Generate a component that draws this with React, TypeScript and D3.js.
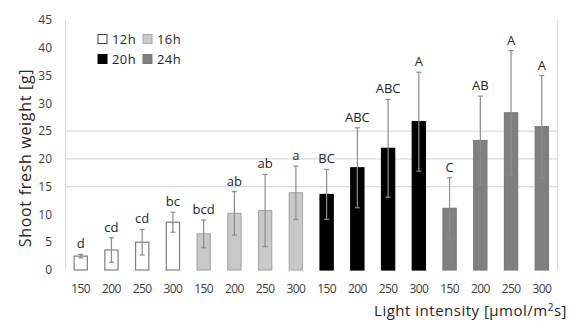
import { useEffect } from 'react';
import * as d3 from 'd3';

// photoperiod groups and light intensities
const groups = ['12h', '16h', '20h', '24h'];
const intensities = ['150', '200', '250', '300'];

// shoot fresh weight mean and error per group, in intensity order
const means12 = [2.5, 3.6, 5.0, 8.6];
const err12 = [0.3, 2.2, 2.3, 1.8];
const means16 = [6.5, 10.2, 10.7, 13.9];
const err16 = [2.5, 3.9, 6.5, 4.8];
const means20 = [13.6, 18.4, 21.9, 26.7];
const err20 = [4.5, 7.2, 8.8, 8.9];
const means24 = [11.1, 23.3, 28.3, 25.8];
const err24 = [5.5, 8.0, 11.2, 9.2];

const letters12 = ['d', 'cd', 'cd', 'bc'];
const letters16 = ['bcd', 'ab', 'ab', 'a'];
const letters20 = ['BC', 'ABC', 'ABC', 'A'];
const letters24 = ['C', 'AB', 'A', 'A'];

const yTicks = [0, 5, 10, 15, 20, 25, 30, 35, 40, 45];
const gridValues = [15, 20, 25];

const fills: Record<string, string> = { '12h': '#ffffff', '16h': '#c9c9c9', '20h': '#000000', '24h': '#808080' };
const strokes: Record<string, string> = { '12h': '#7f7f7f', '16h': '#a9a9a9', '20h': '#000000', '24h': '#7a7a7a' };

const W = 571;
const H = 322;
const font = '"Open Sans", "Noto Sans", sans-serif';

export default function App() {
  useEffect(() => {
    document.body.style.margin = '0';
  }, []);

  const allMeans = [means12, means16, means20, means24];
  const allErr = [err12, err16, err20, err24];
  const allLetters = [letters12, letters16, letters20, letters24];
  const rows = groups.flatMap((g, gi) =>
    intensities.map((it, ii) => ({
      key: g + '-' + it,
      group: g,
      label: it,
      v: allMeans[gi][ii],
      e: allErr[gi][ii],
      letter: allLetters[gi][ii],
    }))
  );

  const x = d3.scaleBand().domain(rows.map(r => r.key)).range([65.5, 557]).paddingInner(0.57).paddingOuter(0.28);
  const y = d3.scaleLinear().domain([0, 45]).range([270, 20]);
  const bw = x.bandwidth();

  return (
    <svg width={W} height={H} style={{ display: 'block', fontFamily: font }}>
      <rect width={W} height={H} fill="#fff" />
      {gridValues.map(g => (
        <line key={g} x1={65.5} x2={557} y1={y(g)} y2={y(g)} stroke="#dcdcdc" strokeWidth={1.2} />
      ))}
      <line x1={65.5} x2={65.5} y1={y(45)} y2={y(0)} stroke="#d9d9d9" strokeWidth={1.2} />
      <line x1={557.5} x2={557.5} y1={y(45)} y2={y(0)} stroke="#d9d9d9" strokeWidth={1.2} />
      {yTicks.map(t => (
        <text key={t} x={52} y={y(t)} dy="0.35em" textAnchor="end" fontSize={12} fill="#404040">
          {t}
        </text>
      ))}
      {rows.map(r => {
        const cx = (x(r.key) as number) + bw / 2;
        return (
          <g key={r.key}>
            <rect
              x={x(r.key)}
              y={y(r.v)}
              width={bw}
              height={y(0) - y(r.v)}
              fill={fills[r.group]}
              stroke={strokes[r.group]}
              strokeWidth={1.2}
            />
            <line x1={cx} x2={cx} y1={y(r.v + r.e)} y2={y(r.v - r.e)} stroke="#8c8c8c" strokeWidth={1.2} />
            <line x1={cx - 2.5} x2={cx + 2.5} y1={y(r.v + r.e)} y2={y(r.v + r.e)} stroke="#8c8c8c" strokeWidth={1.2} />
            <line x1={cx - 2.5} x2={cx + 2.5} y1={y(r.v - r.e)} y2={y(r.v - r.e)} stroke="#8c8c8c" strokeWidth={1.2} />
            <text x={cx} y={y(r.v + r.e) - 6} textAnchor="middle" fontSize={13} fill="#262626">
              {r.letter}
            </text>
            <text x={cx} y={289} dy="0.35em" textAnchor="middle" fontSize={12} letterSpacing={-0.6} fill="#404040">
              {r.label}
            </text>
          </g>
        );
      })}
      {groups.map((g, i) => {
        const lx = 98 + (i % 2) * 45;
        const ly = 39 + Math.floor(i / 2) * 20;
        return (
          <g key={g}>
            <rect x={lx} y={ly - 4.5} width={9} height={9} fill={fills[g]} stroke={g === '12h' ? '#404040' : strokes[g]} strokeWidth={1} />
            <text x={lx + 14} y={ly} dy="0.35em" fontSize={13} letterSpacing={0.4} fill="#262626">
              {g}
            </text>
          </g>
        );
      })}
      <text transform="translate(31,158) rotate(-90)" textAnchor="middle" fontSize={16} letterSpacing={0.7} fill="#262626">
        Shoot fresh weight [g]
      </text>
      <text x={567} y={316} textAnchor="end" fontSize={15} letterSpacing={0.5} fill="#262626">
        Light intensity [μmol/m<tspan dy="-5" fontSize={10}>2</tspan><tspan dy="5">s]</tspan>
      </text>
    </svg>
  );
}
